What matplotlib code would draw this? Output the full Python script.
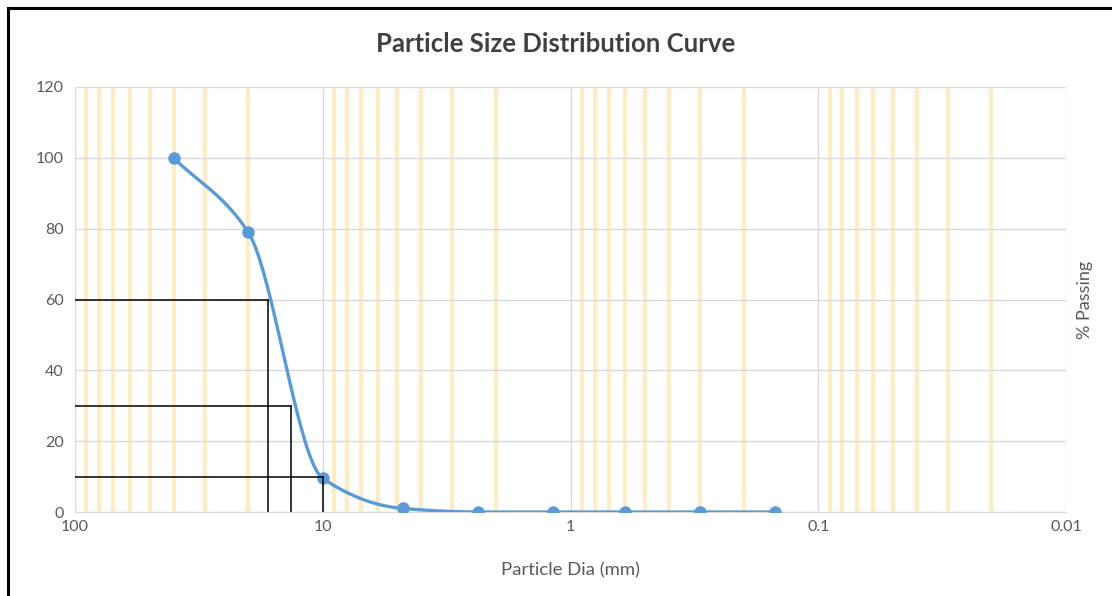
import numpy as np
import matplotlib.pyplot as plt
from matplotlib.ticker import FixedLocator, NullFormatter
from matplotlib.patches import Rectangle

plt.rcParams['font.family'] = ['Lato', 'DejaVu Sans']

# sieve data
dia = [40, 20, 10, 4.75, 2.36, 1.18, 0.6, 0.3, 0.15]
passing = [100, 79, 9.5, 1, 0, 0, 0, 0, 0]

# D60, D30, D10
d_pct = [60, 30, 10]
d_size = [16.6, 13.4, 10.0]

x_ticks = [100, 10, 1, 0.1, 0.01]
x_tick_labels = ['100', '10', '1', '0.1', '0.01']
y_ticks = [0, 20, 40, 60, 80, 100, 120]


def smooth(xs, ys, n=40):
    # monotone cubic through the points, worked out in screen-like units
    u = -np.log10(xs) * 247.0
    v = np.asarray(ys, float) * 3.54
    h = np.diff(u)
    dlt = np.diff(v) / h
    m = np.zeros(len(u))
    m[0], m[-1] = dlt[0], dlt[-1]
    for i in range(1, len(u) - 1):
        if dlt[i - 1] * dlt[i] <= 0:
            m[i] = 0
        else:
            w1 = 2 * h[i] + h[i - 1]
            w2 = h[i] + 2 * h[i - 1]
            m[i] = (w1 + w2) / (w1 / dlt[i - 1] + w2 / dlt[i])
    ou, ov = [], []
    for i in range(len(u) - 1):
        s = np.linspace(0, 1, n)
        h00 = 2 * s ** 3 - 3 * s ** 2 + 1
        h10 = s ** 3 - 2 * s ** 2 + s
        h01 = -2 * s ** 3 + 3 * s ** 2
        h11 = s ** 3 - s ** 2
        ou.extend(u[i] + s * h[i])
        ov.extend(h00 * v[i] + h10 * h[i] * m[i] + h01 * v[i + 1] + h11 * h[i] * m[i + 1])
    return 10 ** (-np.array(ou) / 247.0), np.array(ov) / 3.54


fig = plt.figure(figsize=(11.12, 5.96), dpi=100)
ax = fig.add_axes([75 / 1112, 1 - 512 / 596, (1066 - 75) / 1112, (512 - 87) / 596])

ax.set_xscale('log')
ax.set_xlim(100, 0.01)
ax.set_ylim(0, 120)

ax.xaxis.set_major_locator(FixedLocator(x_ticks))
ax.set_xticklabels(x_tick_labels)
minors = [m * 10.0 ** e for e in range(-2, 2) for m in range(2, 10)]
ax.xaxis.set_minor_locator(FixedLocator(minors))
ax.xaxis.set_minor_formatter(NullFormatter())
ax.set_yticks(y_ticks)

ax.grid(which='minor', axis='x', color='#fdedc6', linewidth=3, zorder=0)
ax.grid(which='major', axis='x', color='#d9d9d9', linewidth=1, zorder=0)
ax.grid(which='major', axis='y', color='#d9d9d9', linewidth=1, zorder=0)
ax.set_axisbelow(True)

for side in ['top', 'left', 'right']:
    ax.spines[side].set_visible(False)
ax.spines['bottom'].set_color('#d9d9d9')
ax.tick_params(which='both', length=0, colors='#595959', labelsize=11.5)
ax.tick_params(axis='x', pad=6)
ax.tick_params(axis='y', pad=8)

sx, sy = smooth(dia, passing)
ax.plot(sx, sy, color='#5b9bd5', linewidth=2.4, zorder=3)
ax.plot(dia, passing, 'o', color='#5b9bd5', markersize=8, zorder=4)

for p, d in zip(d_pct, d_size):
    ax.plot([100, d], [p, p], color='black', linewidth=1.1, zorder=5)
    ax.plot([d, d], [0, p], color='black', linewidth=1.1, zorder=5)

ax.set_xlabel('Particle Dia (mm)', color='#595959', fontsize=13.3, labelpad=20)
ax.yaxis.set_label_position('right')
ax.set_ylabel('% Passing', color='#595959', fontsize=13, labelpad=8)
fig.text(0.5, 1 - 44 / 596, 'Particle Size Distribution Curve', ha='center', va='center',
         fontsize=18.5, fontweight='bold', color='#404040')

fig.patches.append(Rectangle((8 / 1112, -0.1), 1.2, 1 - 8 / 596 + 0.1, transform=fig.transFigure,
                             fill=False, edgecolor='black', linewidth=2.2))

fig.savefig('out.png', dpi=100)
